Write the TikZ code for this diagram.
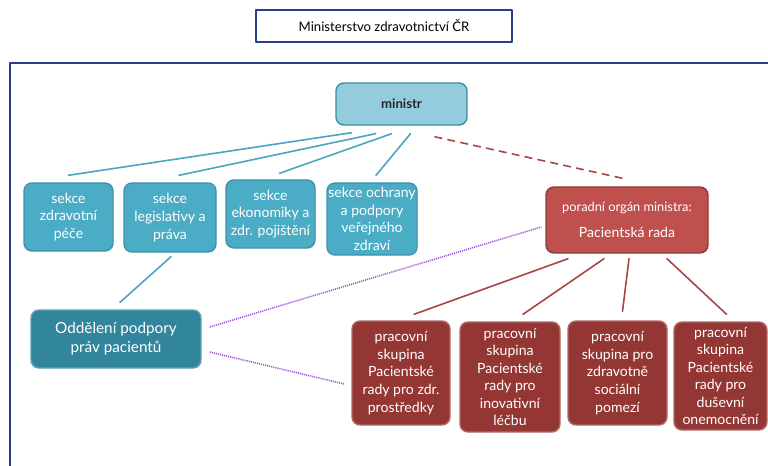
\documentclass[tikz,border=0pt]{standalone}
\usepackage{fontspec}
\setmainfont{Lato}
\usetikzlibrary{calc}
\definecolor{frameblue}{HTML}{27408B}
\definecolor{minfill}{HTML}{93CDDD}
\definecolor{minedge}{HTML}{3B8DA3}
\definecolor{sekfill}{HTML}{4BACC6}
\definecolor{sekedge}{HTML}{3E93AB}
\definecolor{oddfill}{HTML}{31859C}
\definecolor{oddedge}{HTML}{5FA3B6}
\definecolor{radafill}{HTML}{C0504D}
\definecolor{radaedge}{HTML}{8E3B39}
\definecolor{pracfill}{HTML}{943634}
\definecolor{pracedge}{HTML}{B26B69}
\definecolor{tealline}{HTML}{4AA5C0}
\definecolor{redline}{HTML}{A84442}
\definecolor{purpleline}{HTML}{9B4FD6}
\begin{document}
\begin{tikzpicture}[x=0.02cm,y=-0.02cm,line join=round,line cap=round,
	box/.style 2 args={rounded corners=4.5pt,inner sep=0pt,align=center,text=white,
		line width=0.8pt,minimum width=#1*0.02cm,minimum height=#2*0.02cm},
	sekce/.style={fill=sekfill,draw=sekedge,font=\fontsize{8}{10}\selectfont},
	prac/.style={fill=pracfill,draw=pracedge,font=\fontsize{8}{10}\selectfont},
	tealconn/.style={draw=tealline,line width=0.9pt},
	redconn/.style={draw=redline,line width=0.9pt},
	purpconn/.style={draw=purpleline,line width=0.9pt,dash pattern=on 0.6pt off 0.6pt,line cap=butt}]
	\useasboundingbox (0,0) rectangle (768,466);
	\fill[white] (0,0) rectangle (768,466);
	% frame
	\draw[frameblue,line width=1.6pt,line cap=butt] (10,466)--(10,63)--(768,63);
	\node[draw=frameblue,line width=1pt,fill=white,inner sep=0pt,minimum width=256*0.02cm,
		minimum height=32*0.02cm,font=\fontsize{7.5}{9}\selectfont] (title) at (384,26) {Ministerstvo zdravotnictví ČR};
	% ministr and sections
	\node[box={131}{42},fill=minfill,draw=minedge,text=black!85,font=\fontsize{7.5}{9}\selectfont\bfseries] (min) at (401.5,104) {ministr};
	\node[box={89}{68},sekce] (s1) at (68.5,217) {sekce\\zdravotní\\péče};
	\node[box={92}{69},sekce] (s2) at (170,217.5) {sekce\\legislativy a\\práva};
	\node[box={89}{68},sekce] (s3) at (270.5,214) {sekce\\ekonomiky a\\zdr. pojištění};
	\node[box={90}{72},sekce] (s4) at (372,219) {sekce ochrany\\a podpory\\veřejného\\zdraví};
	\node[box={170}{58},fill=oddfill,draw=oddedge,font=\fontsize{8.7}{10.8}\selectfont] (odd) at (116,339) {Oddělení podpory\\práv pacientů};
	% rada and working groups
	\node[box={162}{66},fill=radafill,draw=radaedge,font=\fontsize{7.3}{15}\selectfont] (rada) at (627,220) {poradní orgán ministra:\\{\fontsize{8}{15}\selectfont Pacientská rada}};
	\node[box={98}{104},prac] (pA) at (401,373) {pracovní\\skupina\\Pacientské\\rady pro zdr.\\prostředky};
	\node[box={100}{110},prac] (pB) at (510,377) {pracovní\\skupina\\Pacientské\\rady pro\\inovativní\\léčbu};
	\node[box={99}{104},prac] (pC) at (617.5,373) {pracovní\\skupina pro\\zdravotně\\sociální\\pomezí};
	\node[box={93}{108},prac] (pD) at (720.5,376) {pracovní\\skupina\\Pacientské\\rady pro\\duševní\\onemocnění};
	% connectors
	\draw[tealconn] ($(min.south)+(-50,7)$)--($(s1.north)+(0,-7)$);
	\draw[tealconn] ($(min.south)+(-26,8)$)--($(s2.north)+(9,-7)$);
	\draw[tealconn] ($(min.south)+(-10,8)$)--($(s3.north)+(9,-6)$);
	\draw[tealconn] ($(min.south)+(9,8)$)--($(s4.north)+(4,-7)$);
	\draw[tealconn] ($(s2.south)+(1,4)$)--($(odd.north)+(4,-7)$);
	\draw[redconn,dash pattern=on 4.5pt off 3pt,line cap=butt] ($(min.south)+(33,11)$)--($(rada.north)+(0,-7)$);
	\draw[redconn] ($(rada.south)+(-59,5)$)--($(pA.north)+(13,-6)$);
	\draw[redconn] ($(rada.south)+(-23,5)$)--($(pB.north)+(13,-7)$);
	\draw[redconn] ($(rada.south)+(2,5)$)--($(pC.north)+(5,-9)$);
	\draw[redconn] ($(rada.south)+(40,5)$)--($(pD.north)+(6,-7)$);
	\draw[purpconn] ($(odd.east)+(8,-12)$)--($(rada.west)+(-4,7)$);
	\draw[purpconn] ($(odd.east)+(8,13)$)--($(pA.west)+(-7,11)$);
\end{tikzpicture}
\end{document}
